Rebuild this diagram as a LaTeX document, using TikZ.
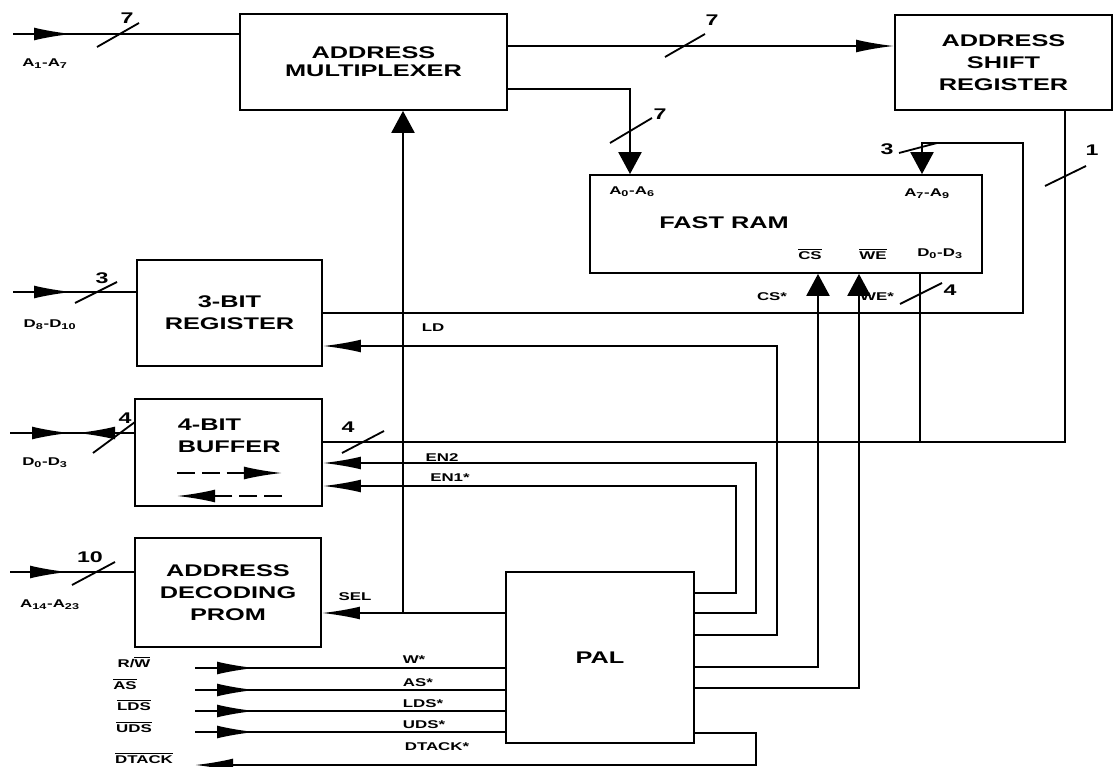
\documentclass[tikz,border=0pt]{standalone}
\usepackage{fontspec}
\newfontfamily\blockfont{Liberation Sans}[FakeStretch=1.5]
\usepackage{tikz}
\usetikzlibrary{arrows.meta, positioning, calc, decorations.markings}

\begin{document}
\begin{tikzpicture}[
    x=0.025cm, y=-0.025cm,
    line width=1.3pt,
    longtip/.tip={Latex[length=9.5mm, width=3.2mm]},
    block/.style={rectangle, draw=black, line width=1.3pt, align=center, inner sep=0pt, font=\blockfont\bfseries\fontsize{12}{15.5}\selectfont},
    blocktext/.style={align=center, inner sep=0pt, font=\blockfont\bfseries\fontsize{12}{15.5}\selectfont},
    sig/.style={inner sep=0pt, font=\blockfont\bfseries\fontsize{8}{9}\selectfont},
    busnum/.style={inner sep=0pt, font=\blockfont\bfseries\fontsize{11}{12}\selectfont},
    arr/.style={-longtip},
    tri/.style={-{Triangle[length=5.5mm, width=5.8mm]}},
    midarr/.style={postaction={decorate}, decoration={markings, mark=at position #1 with {\arrow{longtip}}}},
    bidir/.style={postaction={decorate}, decoration={markings, mark=at position 1.5cm with {\arrow{longtip}}, mark=at position 1.675cm with {\arrowreversed{longtip}}}},
  ]
  \useasboundingbox (0,0) rectangle (1120,767);

  % Blocks
  \node[block, minimum width=6.675cm, minimum height=2.4cm, font=\blockfont\bfseries\fontsize{12}{13}\selectfont] (mux) at (373.5,62) {ADDRESS\\MULTIPLEXER};
  \node[block, minimum width=5.425cm, minimum height=2.375cm] (shreg) at (1003.5,62.5) {ADDRESS\\SHIFT\\REGISTER};
  \node[block, minimum width=9.8cm, minimum height=2.45cm] (ram) at (786,224) {};
  \node[block, minimum width=4.625cm, minimum height=2.65cm] (reg) at (229.5,313) {3-BIT\\REGISTER};
  \node[block, minimum width=4.675cm, minimum height=2.675cm] (buf) at (228.5,452.5) {};
  \node[block, minimum width=4.65cm, minimum height=2.725cm] (prom) at (228,592.5) {ADDRESS\\DECODING\\PROM};
  \node[block, minimum width=4.7cm, minimum height=4.275cm] (pal) at (600,657.5) {PAL};

  % Block inner texts
  \node[blocktext] (ramtxt) at (724,223) {FAST RAM};
  \node[blocktext, align=left, anchor=west] (buftxt) at (177,436) {4-BIT\\BUFFER};
  \draw[dashed, dash pattern=on 0.45cm off 0.17cm, -longtip] (177,473) -- (282,473);
  \draw[dashed, dash pattern=on 0.45cm off 0.17cm, -longtip] (282,496) -- (177,496);

  % Free ends
  \coordinate (a1in) at (13,34);
  \coordinate (d8in) at (13,292);
  \coordinate (d0in) at (10,433);
  \coordinate (a14in) at (10,572);
  \coordinate (rwin) at (195,668);
  \coordinate (asin) at (195,690);
  \coordinate (ldsin) at (195,711);
  \coordinate (udsin) at (195,732);
  \coordinate (dtackout) at (195,765);
  \coordinate (seljoin) at (403,613);

  % Inputs
  \draw[midarr=1.475cm] (a1in) -- (mux.west |- a1in);
  \draw[midarr=1.475cm] (d8in) -- (reg.west |- d8in);
  \draw[bidir] (d0in) -- (buf.west |- d0in);
  \draw[midarr=1.45cm] (a14in) -- (prom.west |- a14in);
  \draw[midarr=1.5cm] (rwin) -- (pal.west |- rwin);
  \draw[midarr=1.5cm] (asin) -- (pal.west |- asin);
  \draw[midarr=1.5cm] (ldsin) -- (pal.west |- ldsin);
  \draw[midarr=1.5cm] (udsin) -- (pal.west |- udsin);

  % Address paths
  \draw[arr] (mux.east |- 0,46) -- (shreg.west |- 0,46);
  \draw[tri] (mux.east |- 0,89) -| (ram.north -| 630,0);
  \draw[tri] (reg.east |- 0,313) -- (1023,313) -- (1023,143) -- (922,143) -- (ram.north -| 922,0);
  \draw (shreg.south -| 1065,0) -- (1065,442) -- (buf.east |- 0,442);
  \draw (ram.south -| 920,0) -- (920,442);

  % PAL outputs
  \draw[arr] (pal.east |- 0,593) -| (736,486) -- (buf.east |- 0,486);
  \draw[arr] (pal.east |- 0,613) -| (756,463) -- (buf.east |- 0,463);
  \draw[arr] (pal.east |- 0,635) -| (777,346) -- (reg.east |- 0,346);
  \draw[tri] (pal.east |- 0,667) -| (ram.south -| 818,0);
  \draw[tri] (pal.east |- 0,688) -| (ram.south -| 859,0);
  \draw[arr] (pal.east |- 0,733) -| (756,765) -- (dtackout);
  \draw[arr] (pal.west |- seljoin) -- (prom.east |- seljoin);
  \draw[tri] (seljoin) -- (mux.south -| seljoin);

  % Bus width marks
  \draw (97,47) -- (139,23);
  \draw (665,57) -- (705,34);
  \draw (610,143) -- (652,118);
  \draw (899,153) -- (937,143);
  \draw (1045,186) -- (1086,166);
  \draw (900,304) -- (942,283);
  \draw (342,453) -- (384,431);
  \draw (75,303) -- (117,282);
  \draw (93,453) -- (135,422);
  \draw (72,585) -- (115,562);
  \node[busnum] (n7a) at (127,18) {7};
  \node[busnum] (n7b) at (712,20) {7};
  \node[busnum] (n7c) at (660,114) {7};
  \node[busnum] (n3a) at (887,149) {3};
  \node[busnum] (n1) at (1092,150) {1};
  \node[busnum] (n4a) at (950,290) {4};
  \node[busnum] (n4b) at (348,427) {4};
  \node[busnum] (n3b) at (102,278) {3};
  \node[busnum] (n4c) at (125,418) {4};
  \node[busnum] (n10) at (90,557) {10};

  % Signal names
  \node[sig] (la1) at (45,64) {A\textsubscript{1}-A\textsubscript{7}};
  \node[sig] (ld8) at (50,325) {D\textsubscript{8}-D\textsubscript{10}};
  \node[sig] (ld0) at (45,463) {D\textsubscript{0}-D\textsubscript{3}};
  \node[sig] (la14) at (50,605) {A\textsubscript{14}-A\textsubscript{23}};
  \node[sig] (lra0) at (632,192) {A\textsubscript{0}-A\textsubscript{6}};
  \node[sig] (lra7) at (927,194) {A\textsubscript{7}-A\textsubscript{9}};
  \node[sig] (lrcs) at (810,254) {$\overline{\hbox{CS}}$};
  \node[sig] (lrwe) at (873,254) {$\overline{\hbox{WE}}$};
  \node[sig] (lrd) at (940,254) {D\textsubscript{0}-D\textsubscript{3}};
  \node[sig] (lcs) at (772,297) {CS*};
  \node[sig] (lwe) at (877,297) {WE*};
  \node[sig] (lld) at (433,328) {LD};
  \node[sig] (len2) at (442,458) {EN2};
  \node[sig] (len1) at (450,478) {EN1*};
  \node[sig] (lsel) at (355,597) {SEL};
  \node[sig] (lw) at (414,660) {W*};
  \node[sig] (las) at (418,683) {AS*};
  \node[sig] (llds) at (423,704) {LDS*};
  \node[sig] (luds) at (424,725) {UDS*};
  \node[sig] (ldtack) at (437,747) {DTACK*};
  \node[sig] (lrw) at (134,662) {R/$\overline{\hbox{W}}$};
  \node[sig] (lasb) at (125,684) {$\overline{\hbox{AS}}$};
  \node[sig] (lldsb) at (134,705) {$\overline{\hbox{LDS}}$};
  \node[sig] (ludsb) at (134,727) {$\overline{\hbox{UDS}}$};
  \node[sig] (ldtackb) at (144,758) {$\overline{\hbox{DTACK}}$};

\end{tikzpicture}
\end{document}
